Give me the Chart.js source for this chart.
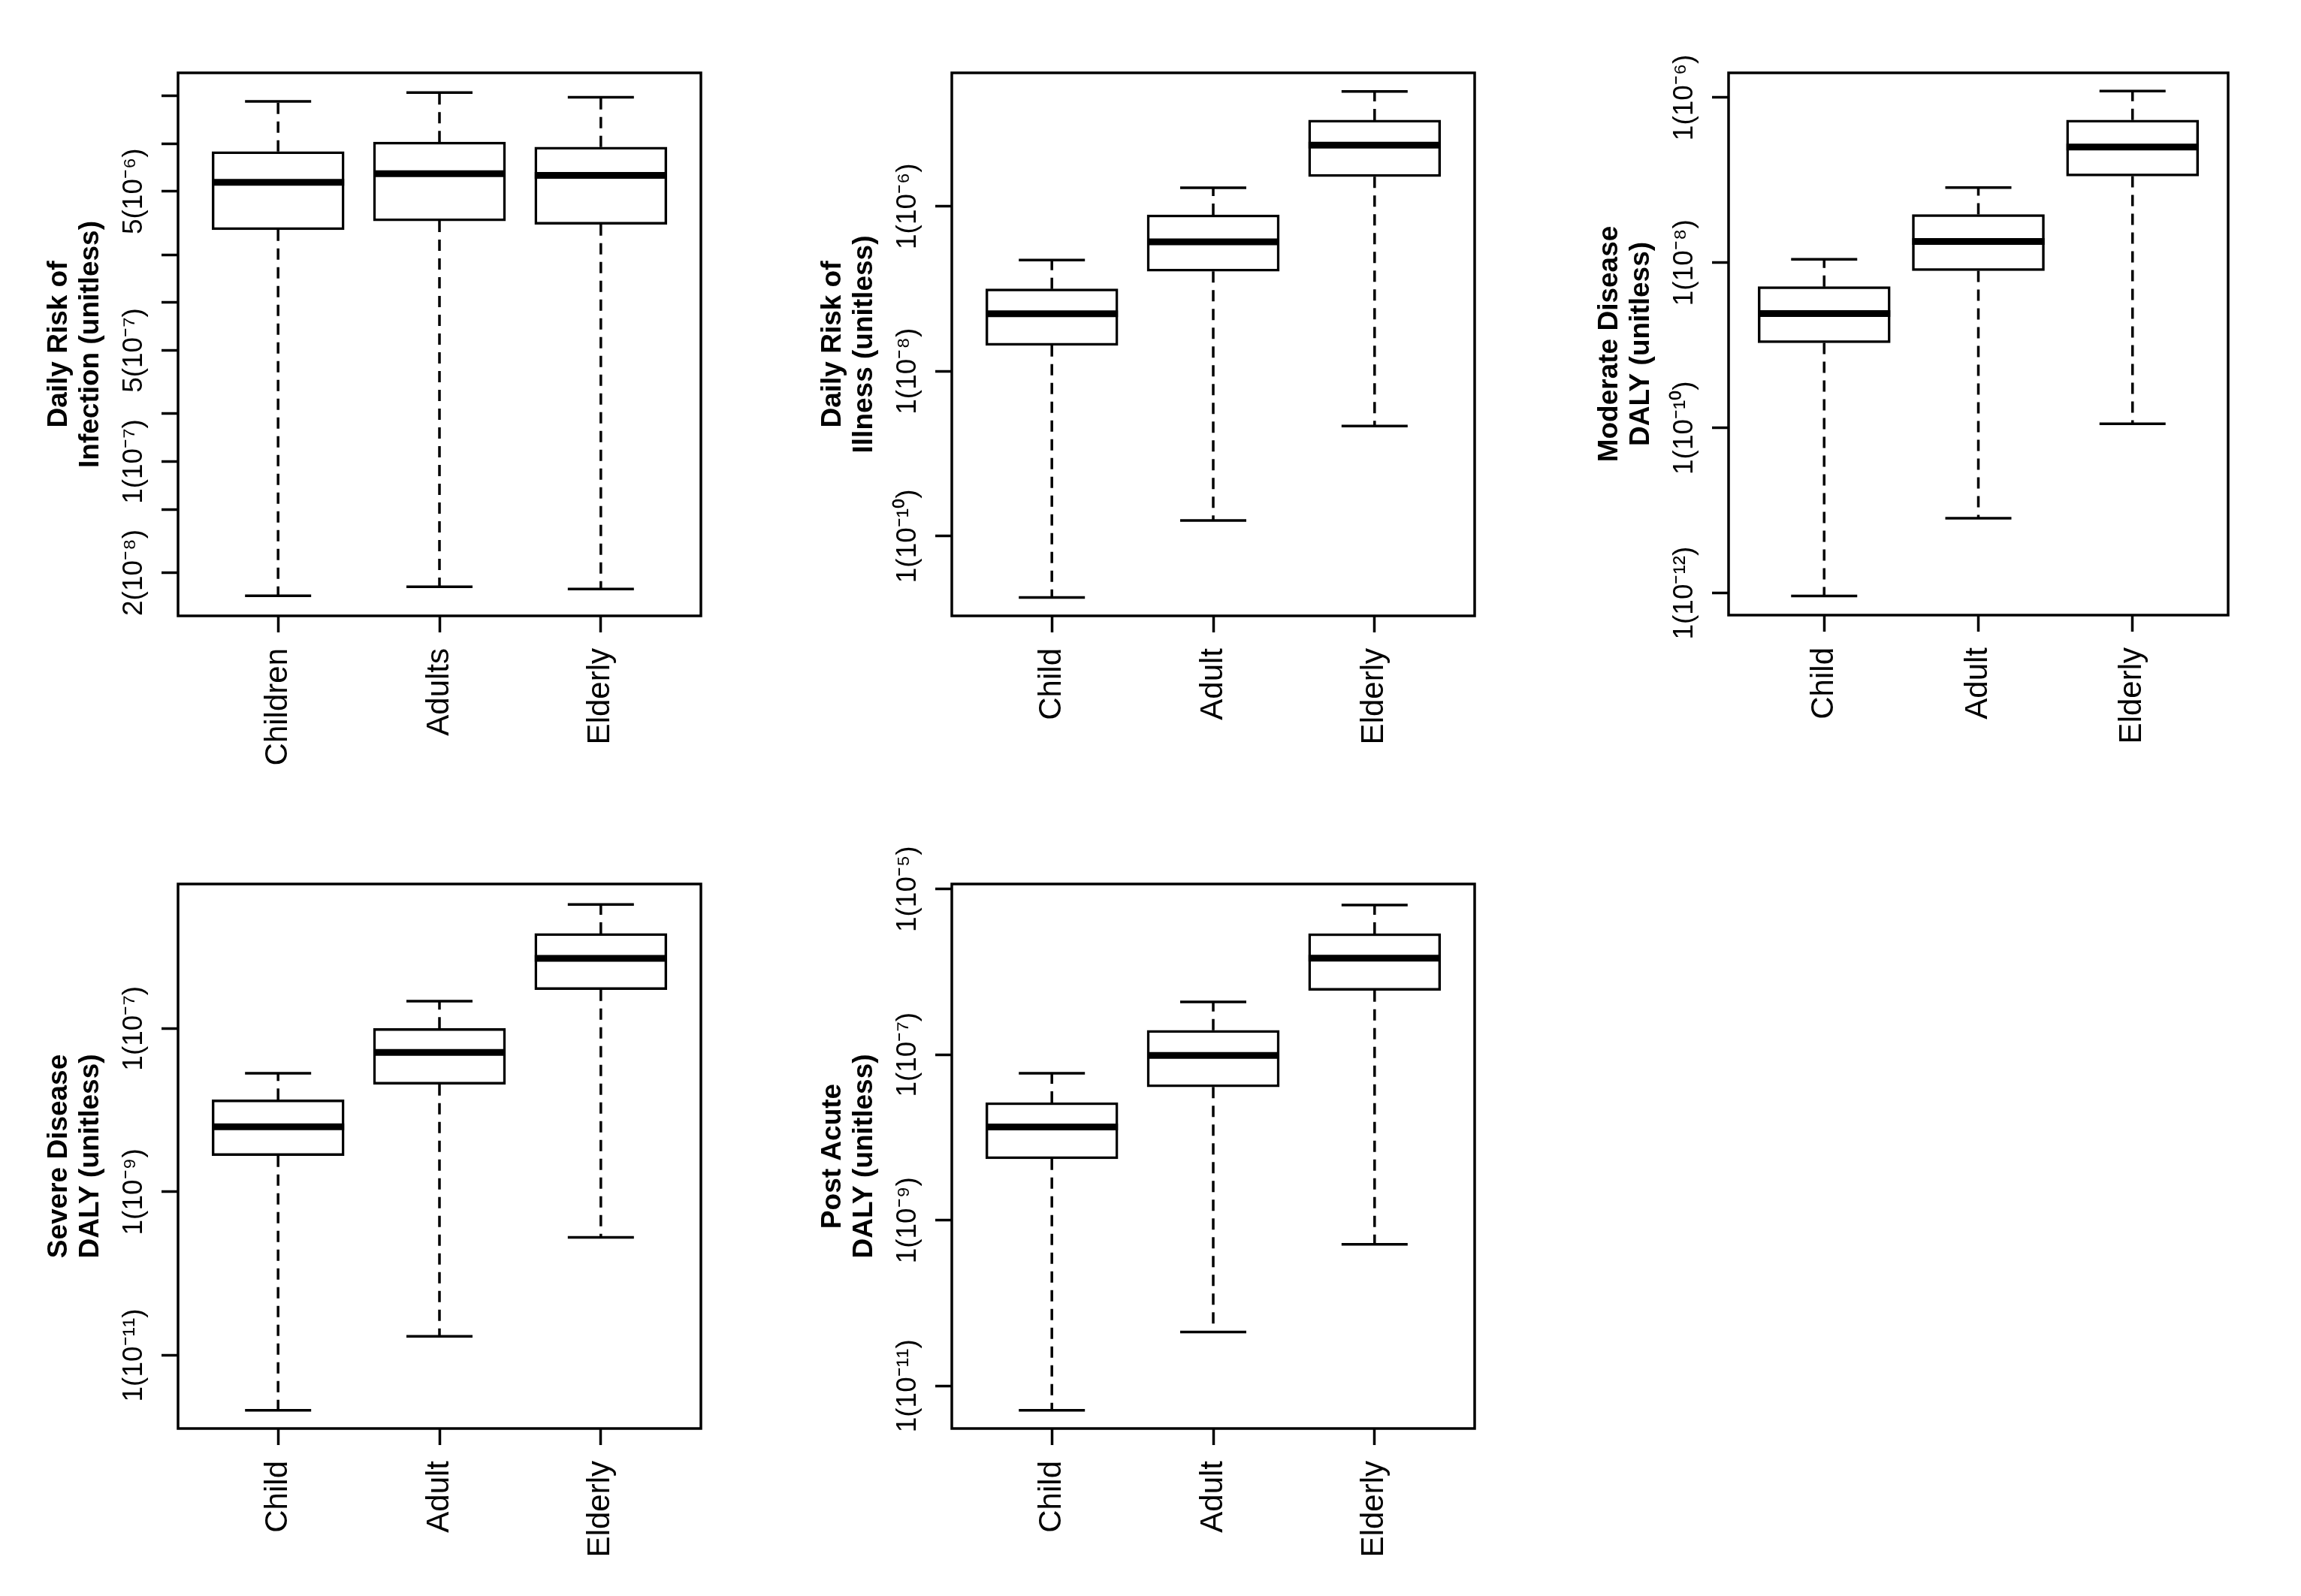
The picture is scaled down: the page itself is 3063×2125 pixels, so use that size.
<!DOCTYPE html>
<html>
<head>
<meta charset="utf-8">
<script src="https://cdn.jsdelivr.net/npm/chart.js@4.4.1/dist/chart.umd.min.js"></script>
<style>
  html, body { margin: 0; padding: 0; background: #fff; }
  body { width: 3063px; height: 2125px; position: relative; overflow: hidden; }
  canvas { position: absolute; }
</style>
</head>
<body>
<canvas id="infection" width="1030" height="1080" style="left:0px;top:0px"></canvas>
<canvas id="illness" width="1030" height="1080" style="left:1030px;top:0px"></canvas>
<canvas id="moderate" width="1003" height="1080" style="left:2060px;top:0px"></canvas>
<canvas id="severe" width="1030" height="1045" style="left:0px;top:1080px"></canvas>
<canvas id="postAcute" width="1030" height="1045" style="left:1030px;top:1080px"></canvas>
<script>
// categories
const populationGroups = ["Children", "Adults", "Elderly"];
const ageGroups = ["Child", "Adult", "Elderly"];

// daily risk of infection
const infMin = [1.43e-8, 1.63e-8, 1.58e-8];
const infQ1 = [2.87e-6, 3.26e-6, 3.1e-6];
const infMedian = [5.7e-6, 6.46e-6, 6.3e-6];
const infQ3 = [8.9e-6, 1.02e-5, 9.5e-6];
const infMax = [1.84e-5, 2.09e-5, 1.95e-5];
const infRange = [1.07e-8, 2.78e-5];
const infTicks = [2e-8, 5e-8, 1e-7, 2e-7, 5e-7, 1e-6, 2e-6, 5e-6, 1e-5, 2e-5];
const infTickLabels = ["2(10⁻⁸)", "", "1(10⁻⁷)", "", "5(10⁻⁷)", "", "", "5(10⁻⁶)", "", ""];

// daily risk of illness
const illMin = [1.81e-11, 1.55e-10, 2.16e-9];
const illQ1 = [2.06e-8, 1.63e-7, 2.29e-6];
const illMedian = [4.97e-8, 3.7e-7, 5.52e-6];
const illQ3 = [9.95e-8, 7.88e-7, 1.11e-5];
const illMax = [2.23e-7, 1.68e-6, 2.47e-5];
const illRange = [1.08e-11, 4.15e-5];
const illTicks = [1e-10, 1e-8, 1e-6];
const illTickLabels = ["1(10⁻¹⁰)", "1(10⁻⁸)", "1(10⁻⁶)"];

// moderate disease DALY
const modMin = [9.2e-13, 8.05e-12, 1.12e-10];
const modQ1 = [1.07e-9, 8.0e-9, 1.12e-7];
const modMedian = [2.42e-9, 1.81e-8, 2.52e-7];
const modQ3 = [5.13e-9, 3.84e-8, 5.35e-7];
const modMax = [1.1e-8, 8.13e-8, 1.2e-6];
const modRange = [5.4e-13, 1.99e-6];
const modTicks = [1e-12, 1e-10, 1e-8, 1e-6];
const modTickLabels = ["1(10⁻¹²)", "1(10⁻¹⁰)", "1(10⁻⁸)", "1(10⁻⁶)"];

// severe disease DALY
const sevMin = [2.12e-12, 1.71e-11, 2.77e-10];
const sevQ1 = [2.77e-9, 2.07e-8, 2.98e-7];
const sevMedian = [6.24e-9, 5.09e-8, 7.18e-7];
const sevQ3 = [1.34e-8, 1.0e-7, 1.45e-6];
const sevMax = [2.83e-8, 2.16e-7, 3.28e-6];
const sevRange = [1.27e-12, 5.85e-6];
const sevTicks = [1e-11, 1e-9, 1e-7];
const sevTickLabels = ["1(10⁻¹¹)", "1(10⁻⁹)", "1(10⁻⁷)"];

// post acute DALY
const postMin = [5.08e-12, 4.48e-11, 5.14e-10];
const postQ1 = [5.53e-9, 4.07e-8, 5.96e-7];
const postMedian = [1.34e-8, 9.8e-8, 1.46e-6];
const postQ3 = [2.64e-8, 1.97e-7, 2.9e-6];
const postMax = [5.96e-8, 4.34e-7, 6.42e-6];
const postRange = [3.06e-12, 1.15e-5];
const postTicks = [1e-11, 1e-9, 1e-7, 1e-5];
const postTickLabels = ["1(10⁻¹¹)", "1(10⁻⁹)", "1(10⁻⁷)", "1(10⁻⁵)"];

const FONT = '"Liberation Sans", Arial, Helvetica, sans-serif';
const BOX_W = 176;
const TICK_LEN = 22;
const LINE_W = 3.5;

const measureCtx = document.createElement("canvas").getContext("2d");
function widestLabel(labels, size) {
  measureCtx.font = size + "px " + FONT;
  return Math.max(...labels.map((l) => measureCtx.measureText(l).width));
}

// R style box round the plot region
const frame = {
  id: "frame",
  afterDatasetsDraw(chart) {
    const { ctx, chartArea: a } = chart;
    ctx.save();
    ctx.lineWidth = LINE_W;
    ctx.strokeStyle = "#000";
    ctx.strokeRect(a.left, a.top, a.right - a.left, a.bottom - a.top);
    ctx.restore();
  },
};

function drawBoxplot(id, p, place) {
  const canvas = document.getElementById(id);
  const xs = p.groups.map((g, i) => i + 1);

  const whiskers = [];
  const staples = [];
  xs.forEach((x, i) => {
    whiskers.push({ x, y: p.q3[i] }, { x, y: p.max[i] }, { x, y: null });
    whiskers.push({ x, y: p.q1[i] }, { x, y: p.min[i] }, { x, y: null });
    staples.push({ x, y: p.min[i] }, { x, y: p.max[i] });
  });

  // centre the rotated tick labels 58px left of the plot
  const tickPad = 58 - TICK_LEN - widestLabel(p.tickLabels, 37) / 2;
  const axisGrid = {
    display: true,
    drawOnChartArea: false,
    drawTicks: true,
    tickLength: TICK_LEN,
    tickWidth: LINE_W,
    tickColor: "#000",
    color: "#000",
    offset: false,
  };

  new Chart(canvas, {
    type: "bar",
    data: {
      datasets: [
        {
          type: "scatter",
          data: xs.map((x, i) => ({ x, y: p.median[i] })),
          pointStyle: "line",
          pointRadius: BOX_W / 2,
          borderColor: "#000",
          borderWidth: 9,
          order: 0,
        },
        {
          type: "scatter",
          data: staples,
          pointStyle: "line",
          pointRadius: BOX_W / 4,
          borderColor: "#000",
          borderWidth: LINE_W,
          order: 0,
        },
        {
          type: "bar",
          data: xs.map((x, i) => ({ x, y: [p.q1[i], p.q3[i]] })),
          backgroundColor: "#fff",
          borderColor: "#000",
          borderWidth: LINE_W,
          borderSkipped: false,
          barThickness: BOX_W,
          order: 1,
        },
        {
          type: "line",
          data: whiskers,
          borderColor: "#000",
          borderWidth: LINE_W,
          borderDash: [15, 10],
          pointRadius: 0,
          spanGaps: false,
          order: 2,
        },
      ],
    },
    options: {
      responsive: false,
      animation: false,
      events: [],
      layout: {
        padding: { left: 0, top: place.top, right: canvas.width - place.right, bottom: 0 },
      },
      plugins: { legend: { display: false }, tooltip: { enabled: false } },
      scales: {
        x: {
          type: "linear",
          min: 0.38,
          max: 3.62,
          offset: false,
          bounds: "data",
          afterBuildTicks: (s) => { s.ticks = xs.map((v) => ({ value: v })); },
          afterFit: (s) => { s.height = canvas.height - place.bottom; },
          grid: axisGrid,
          border: { display: false },
          ticks: {
            autoSkip: false,
            minRotation: 90,
            maxRotation: 90,
            padding: 21,
            color: "#000",
            font: { family: FONT, size: 42 },
            callback: (v) => p.groups[v - 1] ?? "",
          },
        },
        y: {
          type: "logarithmic",
          min: p.range[0],
          max: p.range[1],
          bounds: "data",
          beginAtZero: false,
          afterBuildTicks: (s) => { s.ticks = p.ticks.map((v) => ({ value: v })); },
          afterFit: (s) => { s.width = place.left; },
          grid: axisGrid,
          border: { display: false },
          title: {
            display: true,
            text: p.title,
            color: "#000",
            font: { family: FONT, size: 37, weight: "bold", lineHeight: 42 / 37 },
            padding: { top: place.left - 179, bottom: 0 },
          },
          ticks: {
            autoSkip: false,
            minRotation: 90,
            maxRotation: 90,
            crossAlign: "center",
            padding: tickPad,
            color: "#000",
            font: { family: FONT, size: 37 },
            callback: (v, i) => p.tickLabels[i],
          },
        },
      },
    },
    plugins: [frame],
  });
}

drawBoxplot("infection", {
  title: ["Daily Risk of", "Infection (unitless)"],
  groups: populationGroups,
  min: infMin, q1: infQ1, median: infMedian, q3: infQ3, max: infMax,
  range: infRange, ticks: infTicks, tickLabels: infTickLabels,
}, { left: 237, right: 948, top: 71, bottom: 820 });

drawBoxplot("illness", {
  title: ["Daily Risk of", "Illness (unitless)"],
  groups: ageGroups,
  min: illMin, q1: illQ1, median: illMedian, q3: illQ3, max: illMax,
  range: illRange, ticks: illTicks, tickLabels: illTickLabels,
}, { left: 237, right: 948, top: 71, bottom: 820 });

drawBoxplot("moderate", {
  title: ["Moderate Disease", "DALY (unitless)"],
  groups: ageGroups,
  min: modMin, q1: modQ1, median: modMedian, q3: modQ3, max: modMax,
  range: modRange, ticks: modTicks, tickLabels: modTickLabels,
}, { left: 241, right: 948, top: 71, bottom: 819 });

drawBoxplot("severe", {
  title: ["Severe Disease", "DALY (unitless)"],
  groups: ageGroups,
  min: sevMin, q1: sevQ1, median: sevMedian, q3: sevQ3, max: sevMax,
  range: sevRange, ticks: sevTicks, tickLabels: sevTickLabels,
}, { left: 237, right: 948, top: 71, bottom: 822 });

drawBoxplot("postAcute", {
  title: ["Post Acute", "DALY (unitless)"],
  groups: ageGroups,
  min: postMin, q1: postQ1, median: postMedian, q3: postQ3, max: postMax,
  range: postRange, ticks: postTicks, tickLabels: postTickLabels,
}, { left: 237, right: 948, top: 71, bottom: 822 });
</script>
</body>
</html>
